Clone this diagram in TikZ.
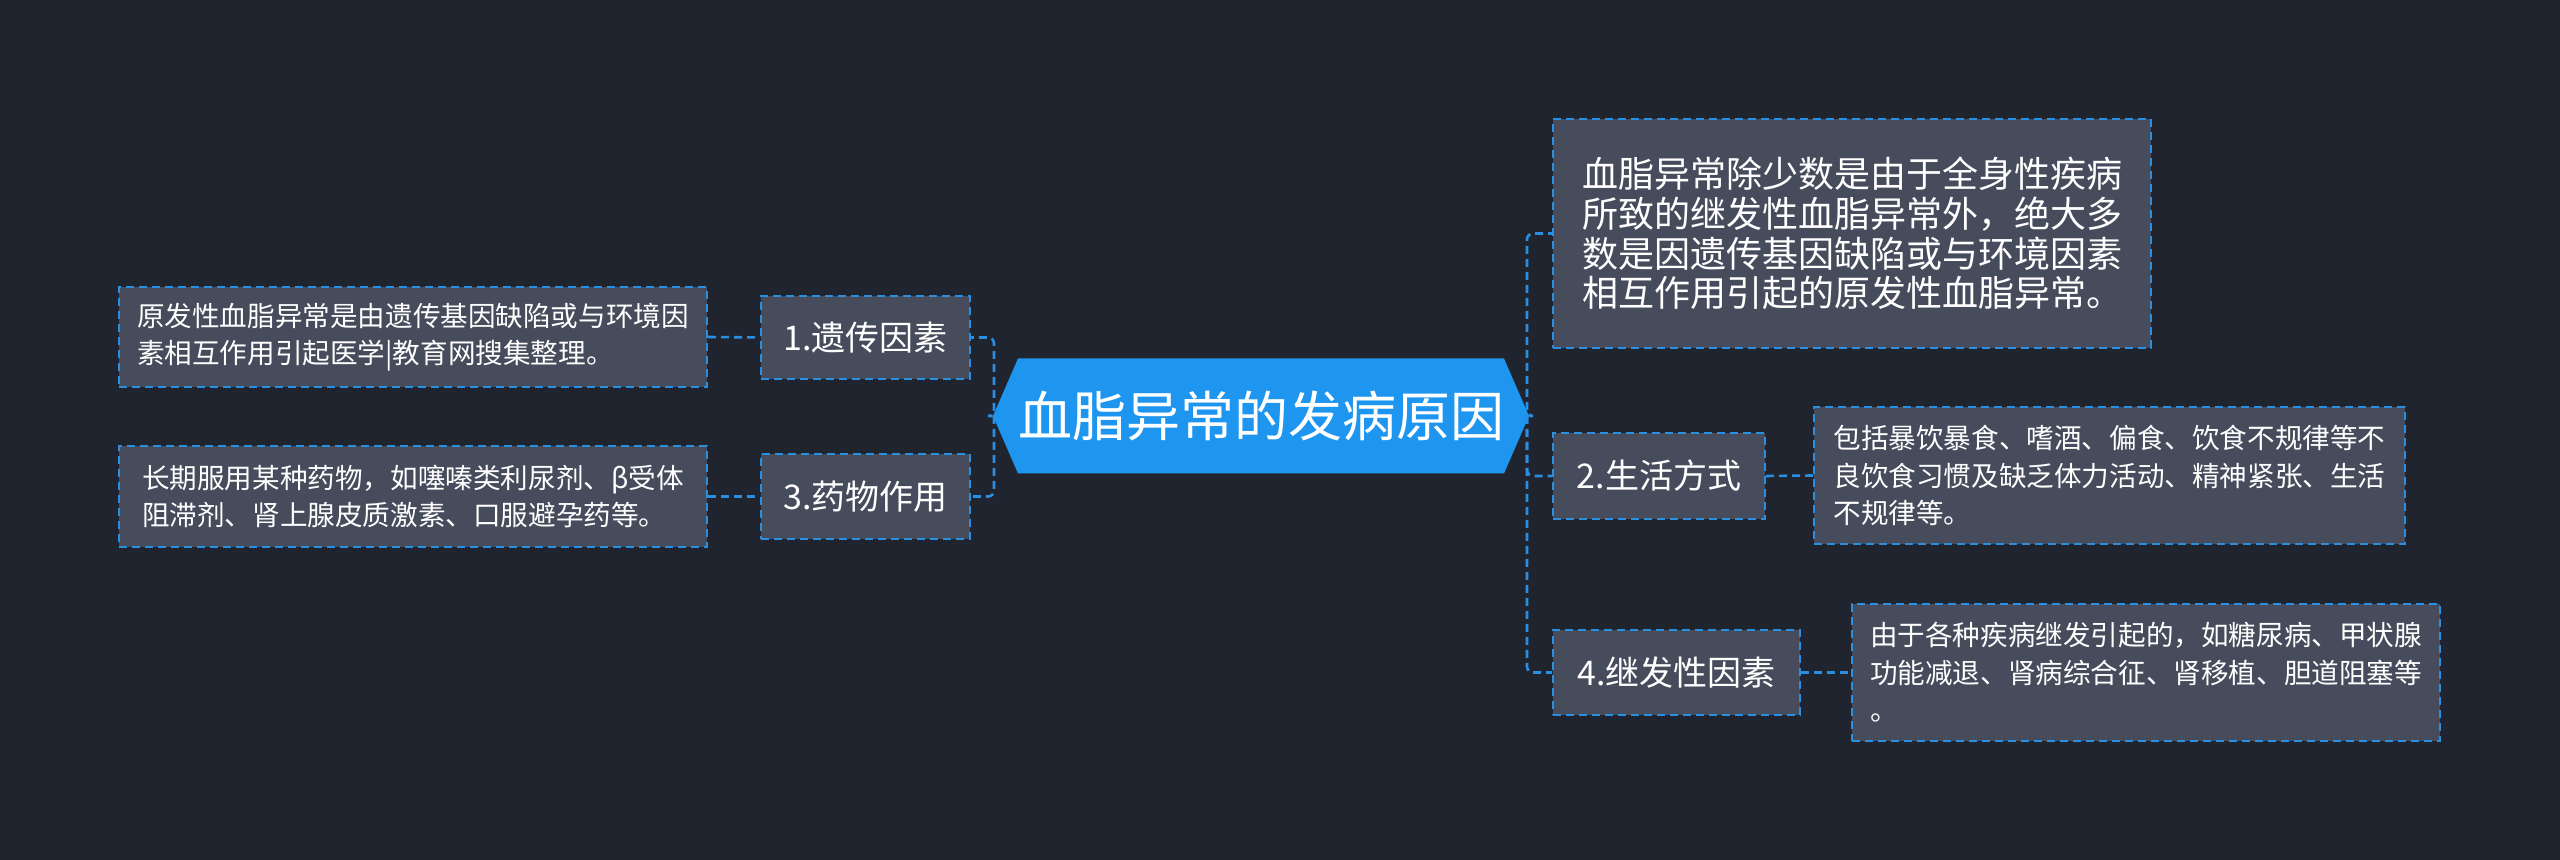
\documentclass[tikz,border=0pt]{standalone}
\usepackage{fontspec}
\setmainfont{Noto Sans CJK SC}
\usetikzlibrary{shapes.symbols}
\definecolor{bg}{HTML}{20242F}
\definecolor{boxc}{HTML}{464C5C}
\definecolor{linec}{HTML}{2A8FE0}
\definecolor{hexc}{HTML}{1E96F0}
\begin{document}
\begin{tikzpicture}[x=0.5pt,y=-0.5pt,
  box/.style={draw=linec,fill=boxc,line width=1pt,dash pattern=on 4pt off 2.5pt,text=white,inner sep=0pt,align=left},
  lbl/.style={box,font=\fontsize{17}{20}\selectfont,align=center},
  para/.style={box,font=\fontsize{13.8}{18.8}\selectfont},
  conn/.style={draw=linec,line width=1.3pt,dash pattern=on 4pt off 2.5pt,rounded corners=3pt}]
\fill[bg] (0,0) rectangle (2560,860);
\useasboundingbox (0,0) rectangle (2560,860);
\node[signal,signal to=west and east,signal pointer angle=133,fill=hexc,text=white,
  minimum width=240.5pt,minimum height=57.5pt,inner sep=0pt,
  font=\fontsize{27}{30}\selectfont] (hex) at (1261,416) {血脂异常的发病原因};
\node[lbl,minimum width=104.5pt,minimum height=41.5pt] (n1) at (865.5,337.5) {1.遗传因素};
\node[lbl,minimum width=104.5pt,minimum height=42.5pt] (n3) at (865.5,496.5) {3.药物作用};
\node[para,minimum width=294pt,minimum height=50pt] (t1) at (413,337) {原发性血脂异常是由遗传基因缺陷或与环境因\\素相互作用引起医学|教育网搜集整理。};
\node[para,minimum width=294pt,minimum height=50.5pt] (t3) at (413,496.5) {长期服用某种药物，如噻嗪类利尿剂、β受体\\阻滞剂、肾上腺皮质激素、口服避孕药等。};
\node[box,minimum width=299pt,minimum height=114.5pt,font=\fontsize{18}{19.8}\selectfont] (r1) at (1852,233.5) {血脂异常除少数是由于全身性疾病\\所致的继发性血脂异常外，绝大多\\数是因遗传基因缺陷或与环境因素\\相互作用引起的原发性血脂异常。};
\node[lbl,minimum width=106pt,minimum height=43pt] (n2) at (1659,476) {2.生活方式};
\node[para,minimum width=295.5pt,minimum height=68.5pt] (t2) at (2109.5,475.5) {包括暴饮暴食、嗜酒、偏食、饮食不规律等不\\良饮食习惯及缺乏体力活动、精神紧张、生活\\不规律等。};
\node[lbl,minimum width=123.5pt,minimum height=42.5pt] (n4) at (1676.5,672.5) {4.继发性因素};
\node[para,minimum width=294pt,minimum height=68.5pt] (t4) at (2146,672.5) {由于各种疾病继发引起的，如糖尿病、甲状腺\\功能减退、肾病综合征、肾移植、胆道阻塞等\\。};
\draw[conn] (hex.west) -- (994,416) |- (n1.east);
\draw[conn] (994,416) |- (n3.east);
\draw[conn] (t1.east) -- (n1.west);
\draw[conn] (t3.east) -- (n3.west);
\draw[conn] (hex.east) -- (1527,416) |- (r1.west);
\draw[conn] (1527,416) |- (n2.west);
\draw[conn] (1527,416) |- (n4.west);
\draw[conn] (n2.east) -- (t2.west);
\draw[conn] (n4.east) -- (t4.west);
\end{tikzpicture}
\end{document}
